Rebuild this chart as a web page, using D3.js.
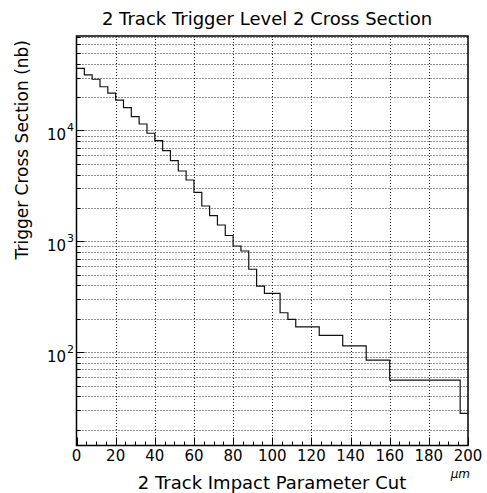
<!DOCTYPE html>
<html lang="en">
<head>
  <meta charset="UTF-8">
  <title>2 Track Trigger Level 2 Cross Section</title>
  <script src="https://d3js.org/d3.v7.min.js"></script>
  <style>
    body { margin: 0; background: #fff; }
    text { font-family: "DejaVu Sans", sans-serif; fill: #000; }
  </style>
</head>
<body>
  <div id="chart"></div>
  <script>
    // impact parameter cut (um), bin edges of the histogram
    const binEdges = [0, 4, 8, 12, 16, 20, 24, 28, 32, 36, 40, 44, 48, 52, 56, 60, 64, 68, 72, 76, 80,
      84, 88, 92, 96, 104, 108, 112, 124, 136, 148, 160, 196, 200];
    // trigger cross section (nb) in each bin
    const crossSection = [36400, 31700, 29000, 24800, 21700, 18800, 16060, 13320, 11440, 9440,
      8090, 6570, 5340, 4310, 3576, 2770, 2084, 1703, 1404, 1129,
      908, 818, 560, 395, 340, 227, 198, 169, 142, 114, 85, 56, 28.1];
    const xTicks = [0, 20, 40, 60, 80, 100, 120, 140, 160, 180, 200];
    const yDecades = [100, 1000, 10000];
    const yExponents = ["2", "3", "4"];

    const width = 487;
    const height = 493;
    const frame = { left: 76.5, right: 468, top: 36, bottom: 445.5 };

    const svg = d3.select("#chart")
      .append("svg")
      .attr("width", width)
      .attr("height", height);

    const x = d3.scaleLinear().domain([0, 200]).range([frame.left, frame.right]);
    const y = d3.scaleLog().domain([14.4, 71200]).range([frame.bottom, frame.top]);

    // grid lines: every log minor step and every 20 um
    const minorY = [];
    for (let p = 1; p <= 4; p++) {
      for (let m = 1; m <= 9; m++) {
        const v = m * Math.pow(10, p);
        if (v > y.domain()[0] && v < y.domain()[1]) minorY.push(v);
      }
    }

    svg.append("g").selectAll("line")
      .data(minorY)
      .enter()
      .append("line")
      .attr("x1", frame.left)
      .attr("x2", frame.right)
      .attr("y1", d => Math.round(y(d)) + 0.5)
      .attr("y2", d => Math.round(y(d)) + 0.5)
      .attr("stroke", "#222")
      .attr("stroke-dasharray", "1,2");

    svg.append("g").selectAll("line")
      .data(xTicks.slice(1, -1))
      .enter()
      .append("line")
      .attr("x1", d => Math.round(x(d)) + 0.5)
      .attr("x2", d => Math.round(x(d)) + 0.5)
      .attr("y1", frame.top)
      .attr("y2", frame.bottom)
      .attr("stroke", "#222")
      .attr("stroke-dasharray", "1,2");

    // histogram outline
    const pts = crossSection.map((v, i) => [binEdges[i], v]);
    pts.push([binEdges[binEdges.length - 1], crossSection[crossSection.length - 1]]);

    const line = d3.line()
      .x(d => x(d[0]))
      .y(d => y(d[1]))
      .curve(d3.curveStepAfter);

    svg.append("path")
      .datum(pts)
      .attr("d", line)
      .attr("fill", "none")
      .attr("stroke", "#111")
      .attr("stroke-width", 1.2);

    // x axis ticks (inside), major every 20, minor every 5
    const xMinor = d3.range(0, 201, 5);
    svg.append("g").selectAll("line")
      .data(xMinor)
      .enter()
      .append("line")
      .attr("x1", d => Math.round(x(d)) + 0.5)
      .attr("x2", d => Math.round(x(d)) + 0.5)
      .attr("y1", frame.bottom)
      .attr("y2", d => frame.bottom - (d % 20 === 0 ? 8 : 4))
      .attr("stroke", "#000");

    // y axis ticks (inside)
    svg.append("g").selectAll("line")
      .data(minorY)
      .enter()
      .append("line")
      .attr("x1", frame.left)
      .attr("x2", d => frame.left + (yDecades.includes(d) ? 8 : 4))
      .attr("y1", d => Math.round(y(d)) + 0.5)
      .attr("y2", d => Math.round(y(d)) + 0.5)
      .attr("stroke", "#000");

    // frame
    svg.append("rect")
      .attr("x", frame.left)
      .attr("y", frame.top)
      .attr("width", frame.right - frame.left)
      .attr("height", frame.bottom - frame.top)
      .attr("fill", "none")
      .attr("stroke", "#000")
      .attr("stroke-width", 1.5);

    // x tick labels
    svg.append("g").selectAll("text")
      .data(xTicks)
      .enter()
      .append("text")
      .attr("x", d => x(d))
      .attr("y", 461)
      .attr("text-anchor", "middle")
      .style("font-size", "15px")
      .text(d => d);

    // y tick labels 10^n
    const yLab = svg.append("g").selectAll("g")
      .data(yDecades)
      .enter()
      .append("g");

    yLab.append("text")
      .attr("x", 66)
      .attr("y", d => y(d) + 9.5)
      .attr("text-anchor", "end")
      .style("font-size", "15px")
      .text("10");

    yLab.append("text")
      .attr("x", 67)
      .attr("y", d => y(d) + 0.5)
      .style("font-size", "11px")
      .text((d, i) => yExponents[i]);

    // titles
    svg.append("text")
      .attr("x", 267)
      .attr("y", 25)
      .attr("text-anchor", "middle")
      .style("font-size", "18px")
      .text("2 Track Trigger Level 2 Cross Section");

    svg.append("text")
      .attr("x", 272)
      .attr("y", 489)
      .attr("text-anchor", "middle")
      .style("font-size", "18px")
      .text("2 Track Impact Parameter Cut");

    svg.append("text")
      .attr("x", 470)
      .attr("y", 478)
      .attr("text-anchor", "end")
      .style("font-size", "12px")
      .style("font-style", "italic")
      .text("\u03bcm");

    svg.append("text")
      .attr("transform", "translate(28,40) rotate(-90)")
      .attr("text-anchor", "end")
      .style("font-size", "17px")
      .text("Trigger Cross Section (nb)");
  </script>
</body>
</html>
